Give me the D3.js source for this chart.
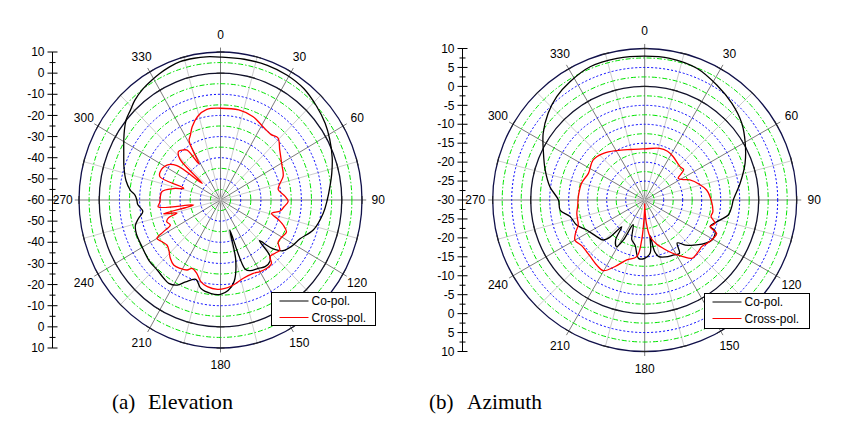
<!DOCTYPE html>
<html><head><meta charset="utf-8">
<script src="https://cdn.jsdelivr.net/npm/d3@7"></script>
<style>body{margin:0;background:#fff;} svg{display:block;}</style>
</head><body>
<svg id="chart" width="867" height="427"></svg>
<script>
// ---------------- data ----------------
const angleLabels = [0, 30, 60, 90, 120, 150, 180, 210, 240, 270, 300, 330];
const elevRadialTicks = [10, 0, -10, -20, -30, -40, -50, -60];
const azimRadialTicks = [10, 5, 0, -5, -10, -15, -20, -25, -30];
const seriesNames = ["Co-pol.", "Cross-pol."];
const captionTags = ["(a)", "(b)"];
const captionTitles = ["Elevation", "Azimuth"];

// [angle (deg), level (dB)]
const elevCoPol = [
  [0,7.6],[10,7.6],[20,7.8],[29,7.6],[38,6.9],[47,5.0],[55,3.2],[62,1.2],[70,-1.2],[77,-3.5],
  [83,-5.4],[90,-7.2],[97,-8.8],[107,-11.9],[115,-16.6],[122,-18.6],[128,-21.0],[132,-26],[135,-32.8],
  [137,-24.5],[140,-22],[145,-21.5],[150,-22.7],[156,-23.4],[159.5,-25],[162,-45],[165,-31],[170,-21],
  [175,-17],[180,-15.4],[186,-15.5],[193,-17],[198,-20.5],[204,-17.6],[208,-14.4],[213,-13],[217,-13.5],
  [223,-14.4],[231,-14.5],[240,-15.3],[249,-15.4],[254,-16.2],[258,-18.6],[262,-21.2],[267,-19],
  [270,-18.6],[273,-17.7],[276,-15.1],[281,-12.4],[288,-9.8],[295,-7.2],[301,-4.2],[305,-2],[309,0.1],
  [314,1.7],[318,3.4],[324,5.1],[329,6.1],[333,6.9],[338,7.8],[343,8.4],[349,8.3],[354,8.1]
];
const elevCrossPol = [
  [0,-16.6],[12,-16.4],[22,-17.4],[31,-19.4],[39,-20.2],[44,-19.1],[51,-22.3],[60,-25.1],[70,-27],
  [75,-29.5],[80,-31],[87,-28],[91,-26.5],[96,-28.5],[100,-30],[104,-34],[108,-29.8],[111,-26.7],
  [115,-24],[120,-25],[125,-25.2],[129,-22.3],[133,-23.1],[137.6,-23.7],[140,-20.8],[145,-20.4],
  [150,-20.9],[155,-21.7],[163,-21.3],[171,-19.3],[177,-18.1],[182,-17.7],[189,-18.5],[194,-20.1],
  [199,-23.5],[203.5,-24.7],[206.5,-23],[211.6,-22],[217,-21.5],[222,-22.9],[227,-25.1],[231,-26],
  [235.7,-25],[240,-23.7],[242,-28.1],[244.5,-32.5],[249,-31.5],[252,-33],[254,-37.6],[257,-31],
  [260,-46.5],[264,-29],[268,-30],[273,-30.2],[278,-30.8],[283,-36],[287,-41],[290,-28.2],[294,-27.3],
  [302,-28.8],[307,-33],[311,-48],[314,-32],[318,-29],[322,-30],[325,-31.2],[328,-40],[331,-28],
  [334,-26],[338,-22.6],[344,-18.9],[351,-16.6]
];
const azimCoPol = [
  [0,8],[10,8],[21.5,7.4],[32,5.8],[42,4.3],[51.6,2.6],[60.5,0.4],[70,-1.9],[80,-4.5],[90,-6.7],
  [94,-7],[100,-7.6],[105,-9.5],[112,-11.4],[114,-9.7],[121,-9.4],[131,-11.9],[138,-14],[143,-15.8],
  [147,-13.2],[152,-13.6],[160,-14],[166,-14.6],[169,-16],[171.5,-20.5],[174,-16],[180,-14.6],
  [186,-14.5],[192,-17.8],[198,-19],[205,-22.8],[208,-18],[211,-15.6],[216,-17],[220.6,-20.7],
  [223,-16.6],[226,-14.8],[232.6,-14.1],[242.6,-12.8],[249.7,-10.9],[257.4,-9.9],[263,-7.6],[270,-7.3],
  [278,-4.8],[287,-2.6],[295,-0.6],[303.4,2],[312,4.2],[319.7,5.8],[327.8,6.9],[337.8,8],[349,8.1]
];
const azimCrossPol = [
  [0,-16.5],[16,-15.8],[25,-15.8],[33,-16.3],[46.5,-17.2],[52,-17],[57,-19.5],[62,-18.5],[66,-17],
  [74,-15],[80.8,-13.5],[91.4,-12.4],[100,-11.8],[104,-12],[108.4,-10.5],[112.3,-11.4],[115,-9.1],
  [119.3,-9.3],[125,-10],[129.4,-10.6],[134,-10.4],[141,-10.2],[146,-12],[152,-14],[159,-16.3],
  [165,-18],[171.7,-20.2],[176,-24],[179,-28],[180,-29],[181,-27],[184.3,-19.4],[188,-14.9],
  [196.6,-13.5],[203.9,-10.8],[210.3,-8.4],[216.4,-8.7],[222,-9.2],[228.2,-9.5],[234,-9.5],[240,-8.8],
  [245,-10],[249.3,-11.3],[254,-11.6],[258.9,-11.8],[265,-12.3],[272.6,-12.5],[285,-12.8],[295.4,-13.6],
  [308,-12.8],[318.6,-13.6],[330.5,-15],[345,-16.2]
];

// ---------------- drawing ----------------
const svg = d3.select("#chart");
const FONT = "'Liberation Sans', Arial, sans-serif";

function drawPolar(cfg) {
  const g = svg.append("g");
  const {cx, cy, rx, ry, min, max, ringStep, majorStep, axisX} = cfg;
  const r = d3.scaleLinear().domain([min, max]).range([0, 1]).clamp(true);
  const px = (a, v) => cx + rx * r(v) * Math.sin(a * Math.PI / 180);
  const py = (a, v) => cy - ry * r(v) * Math.cos(a * Math.PI / 180);
  const pxN = (a, n) => cx + rx * n * Math.sin(a * Math.PI / 180);
  const pyN = (a, n) => cy - ry * n * Math.cos(a * Math.PI / 180);

  // spokes
  const spokes = d3.range(0, 360, 15);
  g.selectAll(".spoke").data(spokes).join("line")
    .attr("x1", cx).attr("y1", cy)
    .attr("x2", a => pxN(a, a % 30 === 0 ? 1.03 : 1))
    .attr("y2", a => pyN(a, a % 30 === 0 ? 1.03 : 1))
    .attr("stroke", a => a % 30 === 0 ? "#7c7c7c" : "#cdcdcd")
    .attr("stroke-width", 1);

  // rings
  const rings = d3.range(min + ringStep, max + 0.001, ringStep);
  const ringStyle = v => {
    if (Math.abs(v - max) < 1e-6) return {c: "#10104a", d: null, w: 1.3};
    if (Math.abs(v) < 1e-6) return {c: "#10102a", d: null, w: 1.3};
    if (Math.abs(v % majorStep) < 1e-6) return {c: "#0000ff", d: "2,2", w: 1};
    return {c: "#00e400", d: "5,2,1.5,2", w: 1};
  };
  g.selectAll(".ring").data(rings).join("ellipse")
    .attr("cx", cx).attr("cy", cy)
    .attr("rx", v => rx * r(v)).attr("ry", v => ry * r(v))
    .attr("fill", "none")
    .attr("stroke", v => ringStyle(v).c)
    .attr("stroke-width", v => ringStyle(v).w)
    .attr("stroke-dasharray", v => ringStyle(v).d);

  // small ticks on spokes at 0 and max
  const tickVals = [0, max];
  spokes.forEach(a => {
    tickVals.forEach(v => {
      const x = px(a, v), y = py(a, v);
      const t = a * Math.PI / 180;
      const dx = Math.cos(t), dy = Math.sin(t);
      g.append("line")
        .attr("x1", x - dx * 4).attr("y1", y - dy * 4)
        .attr("x2", x + dx * 4).attr("y2", y + dy * 4)
        .attr("stroke", "#222").attr("stroke-width", 1);
    });
  });

  // angle labels
  g.selectAll(".alab").data(angleLabels).join("text")
    .attr("x", a => pxN(a, 1.115))
    .attr("y", a => pyN(a, 1.115))
    .attr("dy", "0.35em")
    .attr("text-anchor", "middle")
    .attr("font-family", FONT).attr("font-size", 12)
    .text(a => a);

  // curves
  const line = d3.line()
    .x(d => px(d[0], d[1])).y(d => py(d[0], d[1]))
    .curve(d3.curveCatmullRomClosed.alpha(0.5));
  g.append("path").datum(cfg.co).attr("d", line)
    .attr("fill", "none").attr("stroke", "#000").attr("stroke-width", 1.3);
  g.append("path").datum(cfg.cross).attr("d", line)
    .attr("fill", "none").attr("stroke", "#ff0000").attr("stroke-width", 1.3);

  // left radial axis
  const ya = d3.scaleLinear().domain([min, max]).range([0, ry]);
  const ax = svg.append("g");
  ax.append("line").attr("x1", axisX).attr("x2", axisX)
    .attr("y1", cy - ry).attr("y2", cy + ry).attr("stroke", "#000").attr("stroke-width", 1);
  const majors = cfg.ticks;
  const topMaj = majors.map(v => ({v, y: cy - ya(v)}));
  const botMaj = majors.filter(v => v !== min).map(v => ({v, y: cy + ya(v)}));
  const allMaj = topMaj.concat(botMaj);
  ax.selectAll(".mt").data(allMaj).join("line")
    .attr("x1", axisX - 5).attr("x2", axisX + 5)
    .attr("y1", d => d.y).attr("y2", d => d.y)
    .attr("stroke", "#000");
  const tstep = majors[0] - majors[1];
  const minors = d3.range(min + tstep / 2, max, tstep);
  const minorPos = minors.map(v => cy - ya(v)).concat(minors.map(v => cy + ya(v)));
  ax.selectAll(".mn").data(minorPos).join("line")
    .attr("x1", axisX - 3).attr("x2", axisX + 3)
    .attr("y1", d => d).attr("y2", d => d)
    .attr("stroke", "#000");
  ax.selectAll(".ml").data(allMaj).join("text")
    .attr("x", axisX - 8).attr("y", d => d.y).attr("dy", "0.35em")
    .attr("text-anchor", "end")
    .attr("font-family", FONT).attr("font-size", 12)
    .text(d => d.v);

  // legend
  const L = cfg.legend;
  const lg = svg.append("g");
  lg.append("rect").attr("x", L.x).attr("y", L.y).attr("width", L.w).attr("height", L.h)
    .attr("fill", "#fff").attr("stroke", "#000").attr("stroke-width", 1);
  seriesNames.forEach((name, i) => {
    const yy = L.y + 8.5 + i * 16.5;
    lg.append("line").attr("x1", L.x + 8).attr("x2", L.x + 37)
      .attr("y1", yy).attr("y2", yy)
      .attr("stroke", i === 0 ? "#000" : "#ff0000").attr("stroke-width", 1);
    lg.append("text").attr("x", L.x + 40).attr("y", yy).attr("dy", "0.35em")
      .attr("font-family", FONT).attr("font-size", 12).text(name);
  });
}

drawPolar({cx: 220.5, cy: 200, rx: 141.5, ry: 148, min: -60, max: 10, ringStep: 5, majorStep: 10,
  axisX: 52.5, ticks: elevRadialTicks, co: elevCoPol, cross: elevCrossPol,
  legend: {x: 271.5, y: 292.5, w: 104, h: 33}});
drawPolar({cx: 644.7, cy: 200, rx: 152, ry: 151.5, min: -30, max: 10, ringStep: 2.5, majorStep: 5,
  axisX: 462.5, ticks: azimRadialTicks, co: azimCoPol, cross: azimCrossPol,
  legend: {x: 704.5, y: 293.5, w: 105, h: 35}});

// captions
const capX = [[112, 148], [429, 467]];
const capW = [85, 75];
captionTags.forEach((t, i) => {
  svg.append("text").attr("x", capX[i][0]).attr("y", 409)
    .attr("font-family", "'Liberation Serif', 'DejaVu Serif', serif").attr("font-size", 21)
    .text(t);
  svg.append("text").attr("x", capX[i][1]).attr("y", 409)
    .attr("font-family", "'Liberation Serif', 'DejaVu Serif', serif").attr("font-size", 21)
    .attr("textLength", capW[i]).attr("lengthAdjust", "spacingAndGlyphs")
    .text(captionTitles[i]);
});
</script>
</body></html>
